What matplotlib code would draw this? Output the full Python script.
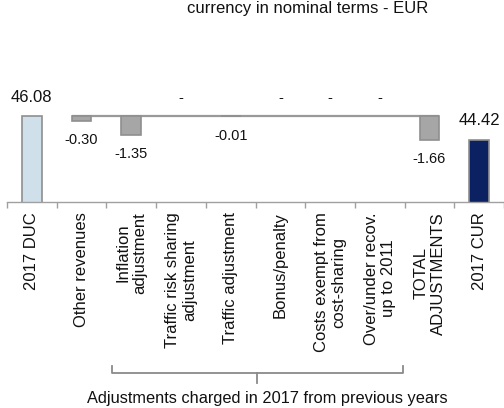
import matplotlib
matplotlib.use("Agg")
import matplotlib.pyplot as plt
import matplotlib.transforms as mtransforms
import numpy as np

plt.rcParams['font.family'] = ['Liberation Sans', 'DejaVu Sans']

# --- data -------------------------------------------------------------
categories = [
    "2017 DUC",
    "Other revenues",
    "Inflation\nadjustment",
    "Traffic risk sharing\nadjustment",
    "Traffic adjustment",
    "Bonus/penalty",
    "Costs exempt from\ncost-sharing",
    "Over/under recov.\nup to 2011",
    "TOTAL\nADJUSTMENTS",
    "2017 CUR",
]
values = [46.08, -0.30, -1.35, 0.0, -0.01, 0.0, 0.0, 0.0, -1.66, 44.42]
kinds = ["total", "adj", "adj", "adj", "adj", "adj", "adj", "adj", "adj", "total"]
title = "currency in nominal terms - EUR"
bracket_text = "Adjustments charged in 2017 from previous years"

# --- styling ------------------------------------------------------------
W, H, DPI = 504, 408, 100
fig = plt.figure(figsize=(W / DPI, H / DPI), dpi=DPI)

ax_left, ax_right = 7, 504
ax_bottom_px, ax_top_px = 201.7, 40
ax = fig.add_axes([ax_left / W, 1 - ax_bottom_px / H,
                   (ax_right - ax_left) / W, (ax_bottom_px - ax_top_px) / H])

y_min = 40.0
px_per_unit = 14.04
y_max = y_min + (ax_bottom_px - ax_top_px) / px_per_unit
ax.set_ylim(y_min, y_max)
ax.set_xlim(-0.5, len(categories) - 0.5)

edge = "#8f8f8f"
fill_total = {0: "#cfe0ea", len(categories) - 1: "#0b2161"}
fill_adj = "#a6a6a6"
bar_w = 0.4
big, small = 12, 10.5

x = np.arange(len(categories))
start = values[0]

# connector at the opening level
ax.hlines(start, x[1] - bar_w / 2, x[-2] + bar_w / 2, color="#999999", lw=1.6, zorder=1)

for i, (v, k) in enumerate(zip(values, kinds)):
    if k == "total":
        ax.bar(x[i], v, width=bar_w, color=fill_total[i], edgecolor=edge, lw=1.2, zorder=2)
        ax.annotate(f"{v:.2f}", (x[i], v), xytext=(0, 13.7), textcoords="offset points",
                    ha="center", va="center", fontsize=big, color="#111111")
    else:
        if v != 0:
            ax.bar(x[i], v, width=bar_w, bottom=start, color=fill_adj, edgecolor=edge,
                   lw=1.2, zorder=2)
            ax.annotate(f"{v:.2f}", (x[i], start + v), xytext=(0, -13.7),
                        textcoords="offset points", ha="center", va="center",
                        fontsize=small, color="#111111")
        else:
            ax.annotate("-", (x[i], start), xytext=(0, 13.2), textcoords="offset points",
                        ha="center", va="center", fontsize=small, color="#111111")

# axes cosmetics
for s in ("left", "top", "right"):
    ax.spines[s].set_visible(False)
ax.spines["bottom"].set_color("#a0a0a0")
ax.spines["bottom"].set_linewidth(1.0)
ax.set_yticks([])
ax.set_xticks(x)
ax.set_xticklabels(categories, rotation=90, ha="center", va="top",
                   multialignment="center", fontsize=big, linespacing=1.2)
ax.tick_params(axis="x", which="major", length=0, pad=7.5, colors="#111111")
ax.set_xticks(np.arange(-0.5, len(categories), 1.0), minor=True)
ax.tick_params(axis="x", which="minor", length=4, width=1.0, color="#a0a0a0")

# bracket under the adjustment labels
trans = mtransforms.blended_transform_factory(ax.transData, fig.transFigure)
bx0, bx1 = 1.62, 7.46
by_top, by_mid, by_tip = 1 - 366 / H, 1 - 373 / H, 1 - 383 / H
bcol = "#8a8a8a"
ax.plot([bx0, bx0, bx1, bx1], [by_top, by_mid, by_mid, by_top], color=bcol, lw=1.3,
        transform=trans, clip_on=False)
bmid = (bx0 + bx1) / 2
ax.plot([bmid, bmid], [by_mid, by_tip], color=bcol, lw=1.3, transform=trans, clip_on=False)
fig.text(267.5 / W, 1 - 398 / H, bracket_text, ha="center", va="center",
         fontsize=11.8, color="#111111")

fig.text(308 / W, 1 - 9 / H, title, ha="center", va="center", fontsize=big, color="#111111")

fig.savefig("out.png", dpi=DPI)
